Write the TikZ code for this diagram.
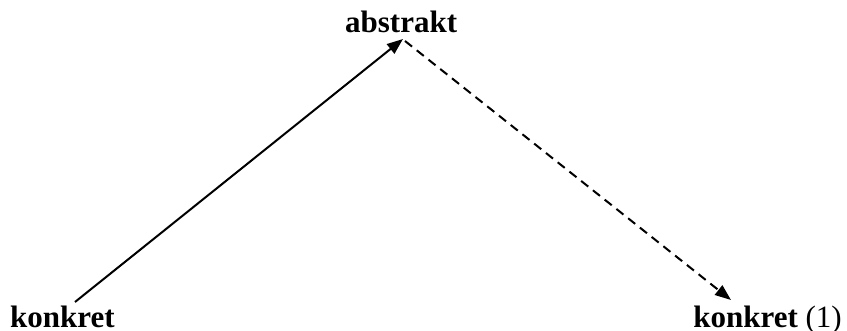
\documentclass[tikz,border=0pt]{standalone}
\usepackage{fontspec}
\setmainfont{Liberation Serif}
\usetikzlibrary{arrows.meta}
\begin{document}
\begin{tikzpicture}[x=1pt,y=1pt,
  lbl/.style={inner sep=0pt,font=\fontsize{31}{36}\selectfont},
  conn/.style={line width=2pt,-{Triangle[length=16pt,width=12pt]}},
  dashconn/.style={conn,dash pattern=on 9pt off 6pt}]
\useasboundingbox (0,0) rectangle (847,331);
\node[lbl,anchor=base west] (abs) at (345,298) {\textbf{abstrakt}};
\node[lbl,anchor=base west] (k1) at (10,3) {\textbf{konkret}};
\node[lbl,anchor=base east] (k2) at (842,3) {\textbf{konkret} (1)};
\coordinate (s1) at (75,29);
\coordinate (t1) at (403,292);
\coordinate (s2) at (405,290);
\coordinate (t2) at (731,31);
\draw[conn] (s1) -- (t1);
\draw[dashconn] (s2) -- (t2);
\end{tikzpicture}
\end{document}
